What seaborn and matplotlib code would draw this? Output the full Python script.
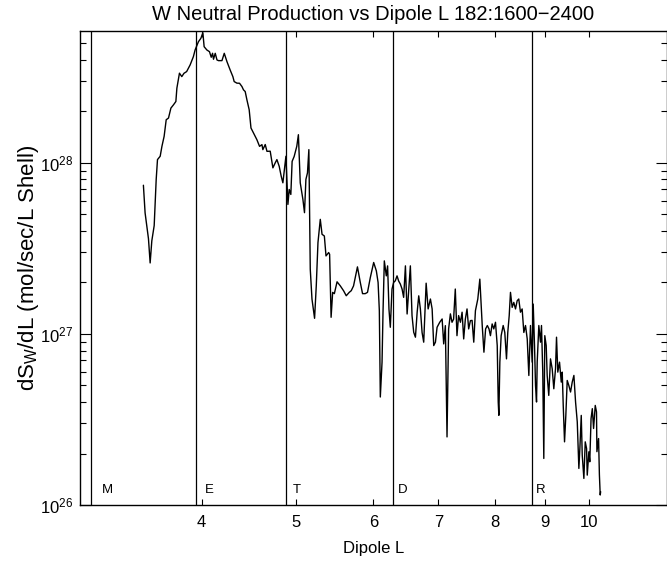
import matplotlib
matplotlib.use("Agg")
import matplotlib.pyplot as plt
import seaborn as sns
import pandas as pd
from matplotlib.ticker import FixedLocator, FixedFormatter, NullLocator, LogLocator

# ---- data ----
dipole_L = [
    3.485, 3.499, 3.527, 3.541, 3.555, 3.575, 3.592, 3.603, 3.626, 3.641,
    3.660, 3.678, 3.698, 3.719, 3.742, 3.763, 3.772, 3.795, 3.816, 3.836,
    3.860, 3.892, 3.922, 3.938, 3.969, 3.992, 4.011, 4.023, 4.049, 4.074,
    4.091, 4.104, 4.113, 4.130, 4.147, 4.162, 4.196, 4.219, 4.246, 4.278,
    4.306, 4.319, 4.347, 4.374, 4.399, 4.415, 4.433, 4.451, 4.475, 4.494,
    4.521, 4.557, 4.586, 4.612, 4.622, 4.648, 4.667, 4.703, 4.733, 4.759,
    4.778, 4.804, 4.827, 4.846, 4.861, 4.881, 4.892, 4.904, 4.919, 4.938,
    4.953, 4.977, 5.008, 5.027, 5.049, 5.081, 5.100, 5.117, 5.136, 5.153,
    5.170, 5.191, 5.223, 5.244, 5.265, 5.294, 5.316, 5.345, 5.366, 5.400,
    5.412, 5.431, 5.451, 5.473, 5.508, 5.550, 5.594, 5.629, 5.669, 5.696,
    5.727, 5.750, 5.780, 5.819, 5.850, 5.887, 5.919, 5.959, 6.006, 6.044,
    6.069, 6.087, 6.101, 6.126, 6.140, 6.159, 6.188, 6.207, 6.227, 6.247,
    6.272, 6.296, 6.321, 6.347, 6.371, 6.397, 6.423, 6.447, 6.474, 6.500,
    6.525, 6.550, 6.576, 6.602, 6.629, 6.656, 6.681, 6.707, 6.734, 6.760,
    6.799, 6.831, 6.868, 6.896, 6.922, 6.950, 6.977, 7.021, 7.061, 7.087,
    7.115, 7.143, 7.170, 7.200, 7.228, 7.255, 7.284, 7.313, 7.341, 7.373,
    7.402, 7.430, 7.459, 7.489, 7.518, 7.549, 7.579, 7.609, 7.639, 7.682,
    7.719, 7.763, 7.794, 7.825, 7.857, 7.888, 7.915, 7.947, 7.978, 8.010,
    8.043, 8.062, 8.074, 8.093, 8.118, 8.157, 8.188, 8.221, 8.246, 8.274,
    8.299, 8.332, 8.364, 8.398, 8.431, 8.463, 8.497, 8.531, 8.565, 8.599,
    8.634, 8.667, 8.701, 8.736, 8.757, 8.784, 8.805, 8.826, 8.840, 8.874,
    8.909, 8.930, 8.957, 8.979, 9.000, 9.030, 9.051, 9.085, 9.122, 9.159,
    9.194, 9.231, 9.253, 9.281, 9.319, 9.357, 9.379, 9.401, 9.430, 9.459,
    9.490, 9.526, 9.565, 9.603, 9.641, 9.679, 9.718, 9.755, 9.778, 9.810,
    9.833, 9.871, 9.903, 9.934, 9.950, 9.988, 10.01, 10.04, 10.07, 10.10,
    10.14, 10.17, 10.18, 10.22, 10.24, 10.26, 10.27,
]

production = [
    7.4e27, 5.1e27, 3.6e27, 2.6e27, 3.5e27, 4.3e27, 8.0e27, 1.045e28, 1.093e28, 1.249e28,
    1.429e28, 1.787e28, 1.828e28, 2.09e28, 2.185e28, 2.284e28, 2.734e28, 3.344e28, 3.194e28, 3.34e28,
    3.417e28, 3.737e28, 4.177e28, 4.57e28, 5.107e28, 5.346e28, 5.763e28, 4.776e28, 4.57e28, 4.467e28,
    4.144e28, 4.372e28, 4.034e28, 4.37e28, 3.996e28, 3.959e28, 3.96e28, 4.37e28, 3.906e28, 3.494e28,
    3.19e28, 2.987e28, 2.924e28, 2.92e28, 2.794e28, 2.673e28, 2.612e28, 2.337e28, 2.044e28, 1.599e28,
    1.495e28, 1.367e28, 1.249e28, 1.278e28, 1.195e28, 1.28e28, 1.168e28, 1.17e28, 9.35e27, 1.0e28,
    1.045e28, 9.55e27, 8.35e27, 7.647e27, 8.935e27, 1.093e28, 8.0e27, 5.716e27, 6.99e27, 6.537e27,
    1.02e28, 1.09e28, 1.25e28, 1.461e28, 7.65e27, 6.11e27, 5.115e27, 8.0e27, 8.74e27, 1.195e28,
    2.391e27, 1.599e27, 1.234e27, 1.911e27, 3.42e27, 4.675e27, 3.823e27, 3.737e27, 2.858e27, 2.991e27,
    2.92e27, 1.251e27, 1.75e27, 1.72e27, 2.017e27, 1.911e27, 1.787e27, 1.672e27, 1.75e27, 1.79e27,
    1.91e27, 2.139e27, 2.466e27, 2.0e27, 1.72e27, 1.72e27, 1.75e27, 2.14e27, 2.616e27, 2.337e27,
    2.0e27, 1.367e27, 4.279e26, 6.842e26, 1.338e27, 2.673e27, 2.185e27, 2.499e27, 1.398e27, 1.094e27,
    1.829e27, 2.0e27, 2.044e27, 2.185e27, 2.04e27, 1.956e27, 1.83e27, 1.636e27, 2.5e27, 1.308e27,
    1.83e27, 2.5e27, 1.278e27, 1.023e27, 9.57e26, 1.338e27, 1.67e27, 1.40e27, 1.02e27, 8.95e26,
    1.98e27, 1.40e27, 1.60e27, 1.40e27, 8.55e26, 8.95e26, 1.094e27, 1.17e27, 1.223e27, 8.745e26,
    1.118e27, 2.5e26, 1.069e27, 1.31e27, 1.17e27, 1.22e27, 1.83e27, 9.77e26, 1.28e27, 1.17e27,
    1.34e27, 9.35e26, 1.22e27, 1.40e27, 1.07e27, 1.196e27, 1.2e27, 8.95e26, 1.367e27, 1.60e27,
    2.091e27, 1.118e27, 7.82e26, 1.07e27, 1.12e27, 1.07e27, 9.77e26, 1.144e27, 1.07e27, 1.17e27,
    8.55e26, 4.0e26, 3.344e26, 6.84e26, 9.77e26, 1.12e27, 1.02e27, 7.15e26, 1.02e27, 1.28e27,
    1.75e27, 1.43e27, 1.529e27, 1.40e27, 1.563e27, 1.60e27, 1.34e27, 1.40e27, 1.02e27, 1.12e27,
    9.35e26, 5.716e26, 1.12e27, 6.84e26, 1.495e27, 8.55e26, 5.0e26, 4.0e26, 6.84e26, 1.12e27,
    8.95e26, 1.12e27, 5.98e26, 1.871e26, 9.77e26, 8.55e26, 5.72e26, 4.372e26, 7.15e26, 6.255e26,
    4.78e26, 6.26e26, 9.57e26, 5.98e26, 6.84e26, 5.23e26, 5.98e26, 3.823e26, 2.34e26, 3.34e26,
    5.346e26, 5.0e26, 4.576e26, 5.23e26, 5.72e26, 4.0e26, 3.06e26, 1.636e26, 2.139e26, 3.34e26,
    1.956e26, 1.43e26, 2.34e26, 2.14e26, 1.495e26, 2.046e26, 1.789e26, 3.199e26, 3.657e26, 2.80e26,
    3.82e26, 3.5e26, 2.05e26, 2.446e26, 1.50e26, 1.144e26, 1.197e26,
]

moon_names = ["M", "E", "T", "D", "R"]
moon_L = [3.08, 3.95, 4.88, 6.28, 8.74]
x_ticks = [4, 5, 6, 7, 8, 9, 10]
x_tick_labels = ["4", "5", "6", "7", "8", "9", "10"]

df = pd.DataFrame({"L": dipole_L, "dSdL": production})

sns.set_theme(style="white")
plt.rcParams["font.family"] = ["Liberation Sans", "DejaVu Sans"]
plt.rcParams["mathtext.fontset"] = "custom"
plt.rcParams["mathtext.rm"] = "Liberation Sans"
plt.rcParams["mathtext.it"] = "Liberation Sans:italic"
plt.rcParams["mathtext.bf"] = "Liberation Sans:bold"
plt.rcParams["text.color"] = "black"
plt.rcParams["axes.labelcolor"] = "black"
plt.rcParams["xtick.color"] = "black"
plt.rcParams["ytick.color"] = "black"

fig = plt.figure(figsize=(6.67, 5.61), dpi=100)
ax = fig.add_axes([80 / 667, 56 / 561, 586.5 / 667, 474 / 561])
ax.set_xscale("log")
ax.set_yscale("log")

sns.lineplot(data=df, x="L", y="dSdL", ax=ax, color="black", lw=1.0,
             estimator=None, sort=False)

ax.set_xlim(3, 12)
ax.set_ylim(1e26, 5.9e28)

for name, lv in zip(moon_names, moon_L):
    ax.axvline(lv, color="black", lw=0.9)
    ax.text(lv + 0.08, 0.032, name, transform=ax.get_xaxis_transform(),
            ha="left", va="center", fontsize=9.5)

ax.xaxis.set_major_locator(FixedLocator(x_ticks))
ax.xaxis.set_major_formatter(FixedFormatter(x_tick_labels))
ax.xaxis.set_minor_locator(NullLocator())
ax.yaxis.set_major_locator(LogLocator(base=10))
ax.yaxis.set_minor_locator(LogLocator(base=10, subs=[2, 3, 4, 5, 6, 7, 8, 9]))

ax.tick_params(axis="x", which="major", direction="in", length=4, width=0.8,
               top=True, bottom=True, labelsize=12, pad=7)
ax.tick_params(axis="y", which="major", direction="in", length=8, width=0.8,
               left=True, right=True, labelsize=12, pad=5)
ax.tick_params(axis="y", which="minor", direction="in", length=4.5, width=0.8,
               left=True, right=True)

for sp in ax.spines.values():
    sp.set_color("black")
    sp.set_linewidth(1.0)

ax.set_xlabel("Dipole L", fontsize=12, labelpad=8)
ax.set_ylabel("dS$_\\mathrm{W}$/dL (mol/sec/L Shell)", fontsize=16)
ax.yaxis.set_label_coords(-0.066, 0.5)
ax.set_title("W Neutral Production vs Dipole L 182:1600\u22122400", fontsize=14.5, pad=8)

fig.savefig("out.png", dpi=100)
